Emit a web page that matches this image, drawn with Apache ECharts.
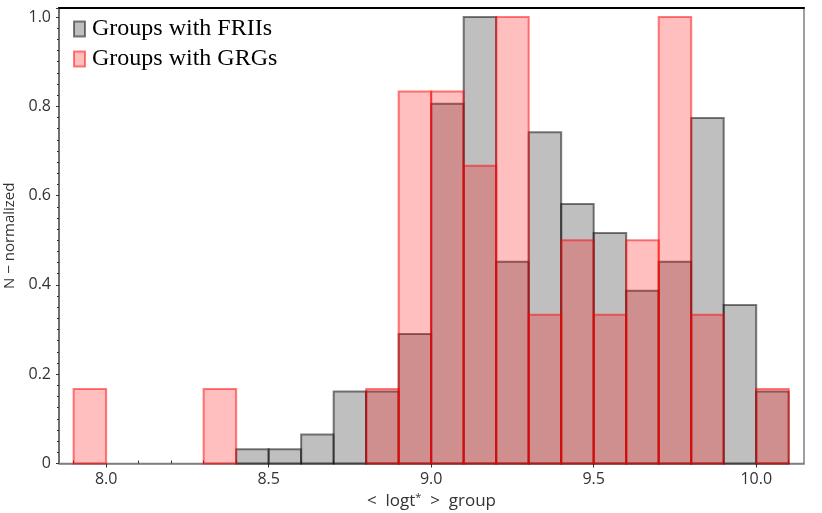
<!DOCTYPE html>
<html>
<head>
<meta charset="utf-8">
<script src="https://cdn.jsdelivr.net/npm/echarts@6/dist/echarts.min.js"></script>
<style>
    html, body { margin: 0; padding: 0; background: #fff; }
    #chart { width: 822px; height: 513px; }
</style>
</head>
<body>
<div id="chart"></div>
<script>
// histogram bins, left edges (width 0.1)
var binStarts = [7.9, 8.0, 8.1, 8.2, 8.3, 8.4, 8.5, 8.6, 8.7, 8.8, 8.9,
                 9.0, 9.1, 9.2, 9.3, 9.4, 9.5, 9.6, 9.7, 9.8, 9.9, 10.0];
var binWidth = 0.1;

var friiValues = [0, 0, 0, 0, 0, 0.032, 0.032, 0.065, 0.161, 0.161, 0.290,
                  0.806, 1.0, 0.452, 0.742, 0.581, 0.516, 0.387, 0.452, 0.774, 0.355, 0.161];
var grgValues = [0.167, 0, 0, 0, 0.167, 0, 0, 0, 0, 0.167, 0.833,
                 0.833, 0.667, 1.0, 0.333, 0.5, 0.333, 0.5, 1.0, 0.333, 0, 0.167];

var xLabels = [8.0, 8.5, 9.0, 9.5, 10.0];
var xMinorTicks = [7.9, 8.1, 8.2, 8.3, 8.4, 8.6, 8.7, 8.8, 8.9, 9.1, 9.2, 9.3, 9.4,
                   9.6, 9.7, 9.8, 9.9, 10.1];

var tickFont = "'Open Sans', sans-serif";
var xMin = 7.855, xMax = 10.147;

function pairs(values) {
    var out = [];
    for (var i = 0; i < binStarts.length; i++) {
        out.push([binStarts[i], values[i]]);
    }
    return out;
}

function histItem(fill, stroke) {
    return function (params, api) {
        var h = api.value(1);
        if (!(h > 0)) {
            return null;
        }
        var x0 = api.value(0);
        var p0 = api.coord([x0, h]);
        var p1 = api.coord([x0 + binWidth, 0]);
        return {
            type: 'rect',
            shape: {x: p0[0], y: p0[1], width: p1[0] - p0[0], height: p1[1] - p0[1]},
            style: {fill: fill, stroke: stroke, lineWidth: 2}
        };
    };
}

var chart = echarts.init(document.getElementById('chart'));

var option = {
    animation: false,
    grid: {
        left: 59,
        right: 18,
        top: 8,
        bottom: 49.5,
        outerBoundsMode: 'none',
        containLabel: false,
        show: true,
        borderColor: '#808080',
        borderWidth: 1.5
    },
    legend: {
        orient: 'vertical',
        left: 68,
        top: 12,
        itemWidth: 11,
        itemHeight: 15,
        itemGap: 6,
        icon: 'rect',
        textStyle: {
            fontFamily: "'Liberation Serif', serif",
            fontSize: 24,
            color: '#000',
            padding: [0, 0, 0, 2]
        },
        data: [
            {name: 'Groups with FRIIs', itemStyle: {color: 'rgba(128,128,128,0.5)', borderColor: 'rgba(0,0,0,0.5)', borderWidth: 2}},
            {name: 'Groups with GRGs', itemStyle: {color: 'rgba(255,0,0,0.25)', borderColor: 'rgba(255,0,0,0.5)', borderWidth: 2}}
        ]
    },
    xAxis: [
        {
            type: 'value',
            min: xMin,
            max: xMax,
            splitLine: {show: false},
            axisLine: {show: true, onZero: false, lineStyle: {color: '#808080', width: 1.5}},
            axisTick: {show: true, customValues: xLabels, length: 4, lineStyle: {color: '#333'}},
            axisLabel: {
                customValues: xLabels,
                margin: 8,
                fontFamily: tickFont,
                fontSize: 16,
                color: '#333',
                formatter: function (v) {
                    return v.toFixed(1);
                }
            },
            name: '<  logt{sup|*}  >  group',
            nameLocation: 'middle',
            nameGap: 26,
            nameTextStyle: {
                fontFamily: tickFont,
                fontSize: 17,
                color: '#333',
                rich: {
                    sup: {fontFamily: tickFont, fontSize: 11, color: '#333', verticalAlign: 'top', padding: [0, 0, 7, 0]}
                }
            }
        },
        {
            type: 'value',
            min: xMin,
            max: xMax,
            position: 'bottom',
            splitLine: {show: false},
            axisLine: {show: false},
            axisTick: {show: true, customValues: xMinorTicks, inside: true, length: 3, lineStyle: {color: '#333'}},
            axisLabel: {show: false}
        },
        {
            type: 'value',
            min: xMin,
            max: xMax,
            position: 'top',
            splitLine: {show: false},
            axisLine: {show: true, onZero: false, lineStyle: {color: '#000', width: 2}},
            axisTick: {show: false},
            axisLabel: {show: false}
        }
    ],
    yAxis: {
        type: 'value',
        min: 0,
        max: 1.0202,
        interval: 0.2,
        splitLine: {show: false},
        axisLine: {show: true, lineStyle: {color: '#606060', width: 1.5}},
        axisTick: {show: true, length: 3, lineStyle: {color: '#333'}},
        minorTick: {show: true, splitNumber: 8, length: 2, lineStyle: {color: '#333'}},
        axisLabel: {
            margin: 8,
            fontFamily: tickFont,
            fontSize: 16,
            color: '#333',
            showMaxLabel: false,
            formatter: function (v) {
                return v === 0 ? '0' : v.toFixed(1);
            }
        },
        name: 'N \u2212 normalized',
        nameLocation: 'middle',
        nameRotate: 90,
        nameGap: 40,
        nameTextStyle: {
            fontFamily: tickFont,
            fontSize: 15,
            color: '#333'
        }
    },
    series: [
        {
            name: 'Groups with FRIIs',
            type: 'custom',
            xAxisIndex: 0,
            renderItem: histItem('rgba(128,128,128,0.5)', 'rgba(0,0,0,0.5)'),
            encode: {x: 0, y: 1},
            data: pairs(friiValues)
        },
        {
            name: 'Groups with GRGs',
            type: 'custom',
            xAxisIndex: 0,
            renderItem: histItem('rgba(255,0,0,0.25)', 'rgba(255,0,0,0.5)'),
            encode: {x: 0, y: 1},
            data: pairs(grgValues)
        }
    ]
};

chart.setOption(option);
</script>
</body>
</html>
